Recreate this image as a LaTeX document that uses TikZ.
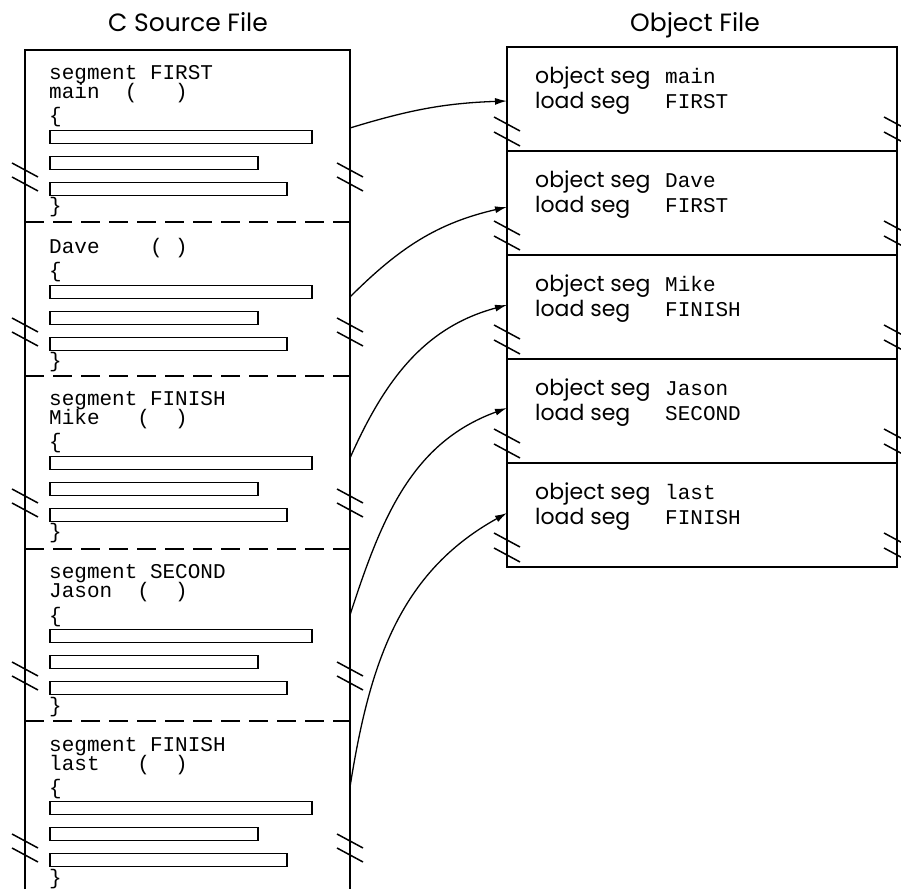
\documentclass[tikz,border=0pt]{standalone}
\usepackage{fontspec}
\setmainfont{Poppins}
\newfontfamily\codefont{Liberation Mono}
\newcommand{\codesize}{\codefont\fontsize{21}{21}\selectfont}
\usetikzlibrary{arrows.meta,positioning,calc}

\begin{document}
\begin{tikzpicture}[x=1pt, y=1pt,
    srcframe/.style={line width=1.8pt},
    secsep/.style={line width=1.6pt, dash pattern=on 19pt off 9pt},
    codebar/.style={draw, line width=1.7pt, minimum height=13pt, inner sep=0pt, outer sep=0pt, anchor=west},
    codeline/.style={font=\codesize, inner sep=0pt, anchor=base west},
    heading/.style={font=\fontsize{25}{25}\selectfont, inner sep=0pt, anchor=base},
    objbox/.style={draw, line width=1.8pt, minimum width=390pt, minimum height=104pt, inner sep=0pt, outer sep=0pt},
    objtxt/.style={font=\fontsize{22}{22}\selectfont, inner sep=0pt, anchor=base west},
    brk/.style={line width=1.5pt},
    arr/.style={-{Latex[length=12pt,width=7pt]}, line width=1.3pt}
]
\useasboundingbox (0,0) rectangle (901,889);

\node[heading] (srctitle) at (188,857) {C Source File};
\node[heading] (objtitle) at (695,857) {Object File};

\draw[srcframe] (25,0) -- (25,839) -- (350,839) -- (350,0);
\foreach \y in {667,513,340,168}
  \draw[secsep] (25,\y) -- (350,\y);

\foreach \i/\b/\fn in {1/752/main~~(~~~), 2/597/Dave~~~~(~), 3/426/Mike~~~(~~), 4/253/Jason~~(~~), 5/81/last~~~(~~)}{
  \node[codeline] (fn\i) at (49,\b+38) {\fn};
  \node[codeline] (open\i) at (49,\b+14) {\{};
  \node[codebar, minimum width=262pt] (bar\i-1) at (50,\b) {};
  \node[codebar, minimum width=208pt] (bar\i-2) at (50,\b-26) {};
  \node[codebar, minimum width=237pt] (bar\i-3) at (50,\b-52) {};
  \node[codeline] (close\i) at (49,\b-76) {\}};
  \foreach \x in {25,350}{
    \draw[brk] (\x-13,\b-26) -- ++(26,-14);
    \draw[brk] (\x-13,\b-40) -- ++(26,-14);
  }
}
\foreach \i/\b/\sg in {1/752/FIRST, 3/426/FINISH, 4/253/SECOND, 5/81/FINISH}
  \node[codeline] (seg\i) at (49,\b+57) {segment \sg};

\node[objbox, anchor=north west] (obj1) at (507,842) {};
\node[objbox, below=0pt of obj1] (obj2) {};
\node[objbox, below=0pt of obj2] (obj3) {};
\node[objbox, below=0pt of obj3] (obj4) {};
\node[objbox, below=0pt of obj4] (obj5) {};

\foreach \i/\nm/\ld in {1/main/FIRST, 2/Dave/FIRST, 3/Mike/FINISH, 4/Jason/SECOND, 5/last/FINISH}{
  \node[objtxt] (oseg\i) at ($(obj\i.north west)+(28,-37)$) {\makebox[130pt][l]{object seg}{\codesize\nm}};
  \node[objtxt] (lseg\i) at ($(obj\i.north west)+(28,-62)$) {\makebox[130pt][l]{load seg}{\codesize\ld}};
  \draw[brk] ($(obj\i.north west)+(-13,-70)$) -- ++(26,-14);
  \draw[brk] ($(obj\i.north west)+(-13,-85)$) -- ++(26,-14);
  \draw[brk] ($(obj\i.north east)+(-13,-70)$) -- ++(26,-14);
  \draw[brk] ($(obj\i.north east)+(-13,-85)$) -- ++(26,-14);
}

\coordinate (src1) at (350,761);
\coordinate (src2) at (350,592);
\coordinate (src3) at (350,431);
\coordinate (src4) at (350,274);
\coordinate (src5) at (350,102);

\draw[arr] (src1) to[out=17,in=182] ([yshift=-2pt]obj1.west);
\draw[arr] (src2) to[out=45,in=193] ([yshift=-4pt]obj2.west);
\draw[arr] (src3) to[out=66,in=195] ([yshift=2pt]obj3.west);
\draw[arr] (src4) to[out=72,in=200] ([yshift=3pt]obj4.west);
\draw[arr] (src5) to[out=81,in=209] ([yshift=2pt]obj5.west);
\end{tikzpicture}
\end{document}
